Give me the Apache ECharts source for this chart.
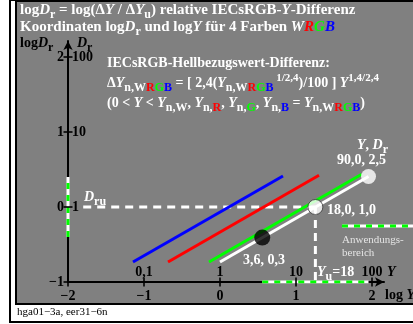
<!DOCTYPE html>
<html><head><meta charset="utf-8">
<script src="https://cdn.jsdelivr.net/npm/echarts@6/dist/echarts.min.js"></script>
<style>html,body{margin:0;padding:0;background:#fff}#c{width:413px;height:324px}</style>
</head><body><div id="c"></div>
<script>
const FONT = '"Liberation Serif","Times New Roman",serif';

// tick labels
const xTickValues = [-2, -1, 0, 1, 2];
const xTickLabelsBottom = ['−2', '−1', '0', '1', '2'];
const xTickValuesTop = [-1, 0, 1, 2];
const xTickLabelsTop = ['0,1', '1', '10', '100'];
const yTickValues = [-1, 0, 1, 2];
const yTickLabelsLeft = ['−1', '0', '1', '2'];
const yTickValuesRight = [0, 1, 2];
const yTickLabelsRight = ['1', '10', '100'];

// colour lines: endpoints as (log Y, log Dr)
const blueLogY = [-1.145, 0.829], blueLogDr = [-0.733, 0.413];
const redLogY = [-0.684, 1.303], redLogDr = [-0.733, 0.423];
const greenLogY = [-0.145, 1.864], greenLogDr = [-0.733, 0.436];
const whiteLogY = [0.0, 1.954], whiteLogDr = [-0.733, 0.406];

// marked points
const pointLogY = [0.556, 1.255, 1.954];
const pointLogDr = [-0.408, 0.0, 0.406];

// application range
const rangeLogY = [0.556, 1.954];
const rangeLogDr = [-0.4, 0.4];
// reference Y_u = 18
const refLogYu = 1.255;
const refLogDr = 0;
const refStartLogY = -1.8;

const WHITE = '#ffffff', RED = '#ff0000', GREEN = '#00ff00', BLUE = '#0000ff', BLACK = '#000000', GRAY = '#808080';

const mctx = document.createElement('canvas').getContext('2d');
const texts = [];
function I(t, c) { return {t: t, i: true, c: c}; }
function S(t, c, i) { return {t: t, s: 12, dy: 4, c: c, i: i}; }
function P(t, c) { return {t: t, s: 11, dy: -7, c: c}; }
function txt(x, base, parts, def) {
  def = def || {};
  let cx = x;
  parts.forEach(function (p) {
    if (typeof p === 'string') p = {t: p};
    const size = p.s || def.s || 14;
    const font = (p.i ? 'italic ' : '') + (def.n ? 'normal ' : 'bold ') + size + 'px ' + FONT;
    mctx.font = font;
    const w = mctx.measureText(p.t).width;
    texts.push({type: 'text', z: 50, silent: true, x: cx, y: base + (p.dy || 0) - size * 0.3,
      style: {text: p.t, font: font, fill: p.c || def.c || WHITE,
        textAlign: 'left', align: 'left', textVerticalAlign: 'middle', verticalAlign: 'middle'}});
    cx += w;
  });
}

// headings
txt(20, 15, ['log', I('D'), S('r'), ' = log(Δ', I('Y'), ' / Δ', I('Y'), S('u'), ') relative IECsRGB-', I('Y'), '-Differenz'], {s: 15});
txt(20, 32, ['Koordinaten log', I('D'), S('r'), ' und log', I('Y'), ' für 4 Farben ', I('W'), I('R', RED), I('G', GREEN), I('B', BLUE)], {s: 15});
txt(20, 48, ['log', I('D'), S('r')], {c: BLACK});
txt(77, 48, [I('D'), S('r')], {c: BLACK});
// formula block
txt(107, 68, ['IECsRGB-Hellbezugswert-Differenz:']);
txt(107, 88, ['Δ', I('Y'), S('n,W'), S('R', RED), S('G', GREEN), S('B', BLUE), ' = [ 2,4(', I('Y'), S('n,W'), S('R', RED), S('G', GREEN), S('B', BLUE), P(' 1/2,4'), ')/100 ] ', I('Y'), P('1,4/2,4')]);
txt(107, 108, ['(0 < ', I('Y'), ' < ', I('Y'), S('n,W'), ', ', I('Y'), S('n,'), S('R', RED), ', ', I('Y'), S('n,'), S('G', GREEN), ', ', I('Y'), S('n,'), S('B', BLUE), ' = ', I('Y'), S('n,W'), S('R', RED), S('G', GREEN), S('B', BLUE), ')']);
// annotations
txt(84, 202, [I('D'), S('ru')]);
txt(327, 215, ['18,0, 1,0']);
txt(357, 150, [I('Y'), ', ', I('D'), S('r')]);
txt(337, 165, ['90,0, 2,5']);
txt(243, 265, ['3,6, 0,3']);
txt(317, 277, [I('Y'), S('u'), '=18']);
txt(387, 277, [I('Y')], {c: BLACK});
txt(385, 300, ['log ', I('Y')], {c: BLACK});
txt(342, 243, ['Anwendungs-'], {n: true, s: 11, c: '#e4e4e4'});
txt(342, 256, ['bereich'], {n: true, s: 11, c: '#e4e4e4'});
txt(17, 315, ['hga01−3a, eer31−6n'], {n: true, s: 11, c: BLACK});

const bg = [
  {type: 'rect', z: -10, silent: true, shape: {x: 10, y: 0, width: 420, height: 322}, style: {fill: '#fff', stroke: BLACK, lineWidth: 2}},
  {type: 'rect', z: -9, silent: true, shape: {x: 16, y: 1, width: 420, height: 303}, style: {fill: GRAY, stroke: BLACK, lineWidth: 2}},
  {type: 'line', z: 40, silent: true, shape: {x1: 342, y1: 226, x2: 420, y2: 226}, style: {stroke: WHITE, lineWidth: 3}},
  {type: 'line', z: 41, silent: true, shape: {x1: 342, y1: 226, x2: 420, y2: 226}, style: {stroke: GREEN, lineWidth: 3, lineDash: [6, 6]}}
];

function pair(xs, ys) { return [[xs[0], ys[0]], [xs[1], ys[1]]]; }
function lineS(data, color, dash, z, w) {
  return {type: 'line', data: data, symbol: 'none', silent: true, z: z || 3,
    lineStyle: {color: color, width: w || 3, type: dash || 'solid', cap: 'butt'}};
}
function lookup(vals, labels) { return function (v) { const k = vals.findIndex(function (a) { return Math.abs(a - v) < 1e-6; }); return k < 0 ? '' : labels[k]; }; }

const labelFont = {color: BLACK, fontFamily: FONT, fontWeight: 'bold', fontSize: 14};

const option = {
  animation: false,
  backgroundColor: '#fff',
  grid: {left: 68, top: 41, width: 316, height: 241, containLabel: false},
  xAxis: [
    {type: 'value', min: -2, max: -2 + 316 / 76, position: 'bottom', splitLine: {show: false}, axisTick: {show: false},
      axisLine: {show: true, onZero: false, lineStyle: {color: BLACK, width: 2}, symbol: ['none', 'arrow'], symbolSize: [7, 9]},
      axisLabel: Object.assign({customValues: xTickValues, formatter: lookup(xTickValues, xTickLabelsBottom), margin: 7}, labelFont)},
    {type: 'value', min: -2, max: -2 + 316 / 76, position: 'bottom', splitLine: {show: false}, axisTick: {show: false},
      axisLine: {show: false, onZero: false},
      axisLabel: Object.assign({customValues: xTickValuesTop, formatter: lookup(xTickValuesTop, xTickLabelsTop), inside: true, margin: 3}, labelFont)}
  ],
  yAxis: [
    {type: 'value', min: -1, max: -1 + 241 / 75, position: 'left', splitLine: {show: false}, axisTick: {show: false},
      axisLine: {show: true, onZero: false, lineStyle: {color: BLACK, width: 2}, symbol: ['none', 'arrow'], symbolSize: [7, 9]},
      axisLabel: Object.assign({customValues: yTickValues, formatter: lookup(yTickValues, yTickLabelsLeft), margin: 4}, labelFont)},
    {type: 'value', min: -1, max: -1 + 241 / 75, position: 'left', splitLine: {show: false}, axisTick: {show: false},
      axisLine: {show: false, onZero: false},
      axisLabel: Object.assign({customValues: yTickValuesRight, formatter: lookup(yTickValuesRight, yTickLabelsRight), inside: true, margin: 4}, labelFont)}
  ],
  graphic: {elements: bg.concat(texts)},
  series: [
    // application range on the axes
    lineS([[-2, rangeLogDr[0]], [-2, rangeLogDr[1]]], WHITE, 'solid', 3),
    lineS([[-2, rangeLogDr[0]], [-2, rangeLogDr[1]]], GREEN, [6, 6], 4),
    lineS([[rangeLogY[0], -1], [rangeLogY[1], -1]], WHITE, 'solid', 3),
    lineS([[rangeLogY[0], -1], [rangeLogY[1], -1]], GREEN, [6, 6], 4),
    // reference dashed lines
    lineS([[refStartLogY, refLogDr], [refLogYu, refLogDr]], WHITE, [8, 6], 3),
    lineS([[refLogYu, refLogDr], [refLogYu, -1]], WHITE, [8, 5], 3),
    // colour lines
    lineS(pair(blueLogY, blueLogDr), BLUE, 'solid', 5),
    lineS(pair(redLogY, redLogDr), RED, 'solid', 5),
    lineS(pair(whiteLogY, whiteLogDr), WHITE, 'solid', 5),
    lineS(pair(greenLogY, greenLogDr), GREEN, 'solid', 6),
    // tick crosses
    {type: 'scatter', silent: true, z: 7, symbol: 'rect', symbolSize: [9, 2], itemStyle: {color: BLACK},
      data: yTickValues.map(function (v) { return [-2, v]; })},
    {type: 'scatter', silent: true, z: 7, symbol: 'rect', symbolSize: [2, 9], itemStyle: {color: BLACK},
      data: xTickValues.map(function (v) { return [v, -1]; })},
    // marked points
    {type: 'scatter', silent: true, z: 10, symbol: 'circle',
      data: [
        {value: [pointLogY[0], pointLogDr[0]], symbolSize: 16, itemStyle: {color: BLACK}},
        {value: [pointLogY[1], pointLogDr[1]], symbolSize: 15, itemStyle: {color: WHITE, borderColor: '#333', borderWidth: 1}},
        {value: [pointLogY[2], pointLogDr[2]], symbolSize: 15, itemStyle: {color: WHITE}}
      ]}
  ]
};
const chart = echarts.init(document.getElementById('c'), null, {renderer: 'canvas'});
chart.setOption(option);
</script>
</body></html>
